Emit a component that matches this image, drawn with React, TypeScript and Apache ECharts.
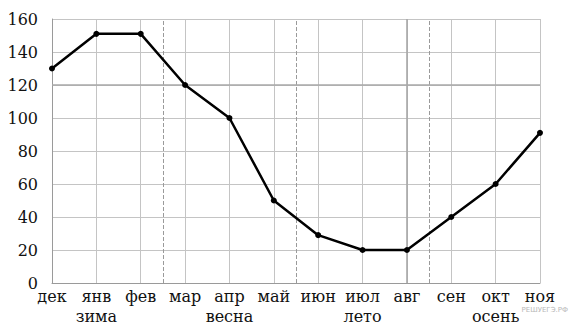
import React, { useEffect, useRef } from "react";
import * as echarts from "echarts";

const months = ["дек", "янв", "фев", "мар", "апр", "май", "июн", "июл", "авг", "сен", "окт", "ноя"];
const seasons = ["", "зима", "", "", "весна", "", "", "лето", "", "", "осень", ""];
const values = [130, 151, 151, 120, 100, 50, 29, 20, 20, 40, 60, 91];
const seasonBorders = [2.5, 5.5, 8.5];
const yTicks = [0, 20, 40, 60, 80, 100, 120, 140, 160];

export default function App() {
  const ref = useRef<HTMLDivElement>(null);
  useEffect(() => {
    if (!ref.current) return;
    const chart = echarts.init(ref.current, null, { renderer: "svg" });
    const font = "DejaVu Serif";
    chart.setOption({
      animation: false,
      backgroundColor: "#ffffff",
      textStyle: { fontFamily: font },
      grid: { left: 52, right: 30, top: 19, bottom: 45 },
      xAxis: {
        type: "value",
        min: 0,
        max: months.length - 1,
        interval: 1,
        axisLine: { show: true, lineStyle: { color: "#9a9a9a", width: 1 } },
        axisTick: { show: false },
        splitLine: { show: true, lineStyle: { color: "#c4c4c4", width: 1 } },
        axisLabel: {
          color: "#111",
          fontFamily: font,
          fontSize: 16,
          lineHeight: 20,
          margin: 3,
          formatter: (v: number) => {
            const i = Math.round(v);
            const s = seasons[i];
            return s ? months[i] + "\n" + s : months[i];
          },
        },
      },
      yAxis: {
        type: "value",
        min: yTicks[0],
        max: yTicks[yTicks.length - 1],
        interval: 20,
        axisLine: { show: true, lineStyle: { color: "#9a9a9a", width: 1 } },
        axisTick: { show: false },
        splitLine: { show: true, lineStyle: { color: "#c4c4c4", width: 1 } },
        axisLabel: { color: "#111", fontFamily: font, fontSize: 16, margin: 14 },
      },
      graphic: [
        {
          type: "text",
          right: 2,
          top: 306,
          style: { text: "РЕШУЕГЭ.РФ", fontSize: 7, fill: "#b8b8b8", fontFamily: "DejaVu Sans" },
        },
      ],
      series: [
        {
          type: "line",
          data: values.map((v, i) => [i, v]),
          symbol: "circle",
          symbolSize: 6,
          itemStyle: { color: "#000" },
          lineStyle: { color: "#000", width: 2.5 },
          z: 5,
          markLine: {
            silent: true,
            symbol: "none",
            label: { show: false },
            data: [
              ...seasonBorders.map((x) => ({
                xAxis: x,
                lineStyle: { type: "dashed", color: "#9a9a9a", width: 1 },
              })),
              { xAxis: 8, lineStyle: { type: "solid", color: "#a8a8a8", width: 1.6 } },
              { yAxis: 120, lineStyle: { type: "solid", color: "#a8a8a8", width: 1.6 } },
            ],
          },
        },
      ],
    });
    return () => chart.dispose();
  }, []);
  return (
    <div
      ref={ref}
      style={{ position: "absolute", left: 0, top: 0, width: 570, height: 328 }}
    />
  );
}
